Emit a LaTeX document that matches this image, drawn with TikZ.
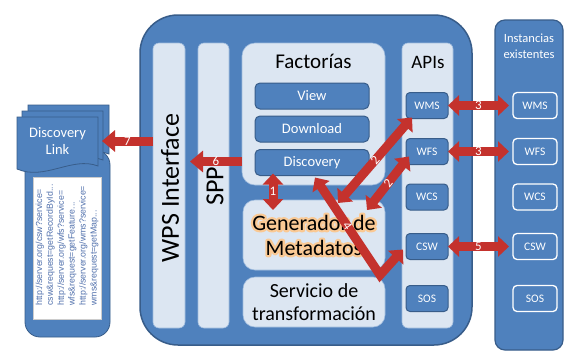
\documentclass[tikz,border=0pt]{standalone}
\usepackage{fontspec}
\setmainfont{Carlito}
\newfontfamily\urlfont{Liberation Sans}
\usetikzlibrary{arrows.meta}
\definecolor{mblue}{RGB}{79,129,189}
\definecolor{dblue}{RGB}{56,93,138}
\definecolor{lblue}{RGB}{220,230,242}
\definecolor{cblue}{RGB}{160,188,222}
\definecolor{ared}{RGB}{196,50,45}
\definecolor{urltext}{RGB}{80,112,172}
\newcommand\glowline[1]{\rlap{\special{pdf:literal direct 1 Tr 4.5 w 1 J 1 j 0.98 0.79 0.58 RG}#1\special{pdf:literal direct 0 Tr}}#1}
\begin{document}
\begin{tikzpicture}[x=1pt,y=-1pt,
  every node/.style={inner sep=0pt,outer sep=0pt},
  bigbox/.style={fill=mblue,draw=dblue,line width=1.5pt,rounded corners=38pt},
  col/.style={fill=lblue,draw=cblue,line width=0.6pt,rounded corners=6pt},
  panel/.style={fill=lblue,draw=cblue,line width=0.6pt,rounded corners=13pt},
  btn/.style={fill=mblue,draw=dblue,line width=1pt,rounded corners=5pt,text=white,
    font=\fontsize{14.5}{16}\selectfont,minimum width=114pt,minimum height=26pt},
  apibtn/.style={fill=mblue,draw=dblue,line width=1pt,rounded corners=4pt,text=white,
    font=\fontsize{11.5}{13}\selectfont,minimum width=42pt,minimum height=26pt},
  instbtn/.style={fill=mblue,draw=white,line width=1.3pt,rounded corners=4pt,text=white,
    font=\fontsize{11.5}{13}\selectfont,minimum width=44pt,minimum height=26pt},
  redarrow/.style={draw=ared,line width=9pt,-{Triangle[length=13pt,width=21pt]}},
  redboth/.style={draw=ared,line width=9pt,
    {Triangle[length=11pt,width=20pt]}-{Triangle[length=11pt,width=20pt]}},
  num/.style={text=white,font=\fontsize{13}{13}\selectfont},
  page/.style={fill=mblue,draw=dblue,line width=0.8pt}
]
\useasboundingbox[fill=white] (0,0) rectangle (565,354);

% main container
\node[bigbox,minimum width=332pt,minimum height=330pt] (big) at (306,180) {};
% existing instances
\node[fill=mblue,draw=dblue,line width=1.2pt,rounded corners=10pt,
  minimum width=68pt,minimum height=330pt] (inst) at (529,185) {};
\node[text=white,align=center,font=\fontsize{12.5}{15.5}\selectfont] (insttitle) at (529,46) {Instancias\\existentes};

% columns
\node[col,minimum width=32pt,minimum height=285pt] (wps) at (169,185.5) {};
\node[rotate=90,font=\fontsize{26}{26}\selectfont] (wpstext) at (170,188) {WPS Interface};
\node[col,minimum width=31pt,minimum height=285pt] (spp) at (213.5,185.5) {};
\node[rotate=90,font=\fontsize{26}{26}\selectfont] (spptext) at (215,186) {SPP};

% factorias
\node[panel,minimum width=143pt,minimum height=142pt] (fact) at (313.5,114) {};
\node[font=\fontsize{21}{21}\selectfont] (facttitle) at (313.5,61) {Factorías};
\node[btn] (view) at (312,96) {View};
\node[btn] (download) at (312,129) {Download};
\node[btn] (discovery) at (312,162.5) {Discovery};

\node[panel,rounded corners=12pt,minimum width=142pt,minimum height=70pt,align=center,
  font=\fontsize{22}{25}\selectfont] (gen) at (314,235)
  {\glowline{Generador de}\\\glowline{Metadatos}};
\node[panel,rounded corners=12pt,minimum width=142pt,minimum height=50pt,align=center,
  font=\fontsize{20}{23}\selectfont] (serv) at (314,302) {Servicio de\\transformación};

% APIs
\node[col,minimum width=51pt,minimum height=285pt] (apis) at (427.5,185.5) {};
\node[font=\fontsize{19}{19}\selectfont] (apistitle) at (428,62) {APIs};
\node[apibtn] (wms) at (427,105.5) {WMS};
\node[apibtn] (wfs) at (427,151.5) {WFS};
\node[apibtn] (wcs) at (427,197) {WCS};
\node[apibtn] (csw) at (427,246.5) {CSW};
\node[apibtn] (sos) at (427,298.5) {SOS};

\node[instbtn] (iwms) at (535,105.5) {WMS};
\node[instbtn] (iwfs) at (535,151.5) {WFS};
\node[instbtn] (iwcs) at (535,197) {WCS};
\node[instbtn] (icsw) at (535,246.5) {CSW};
\node[instbtn] (isos) at (535,298.5) {SOS};

% discovery link
\draw[page,rounded corners=15pt] (25,150) rectangle (110,337);
\foreach \dx/\dy in {11/-12,5/-6,0/0}{
  \begin{scope}[shift={(\dx,\dy)}]
    \draw[page] (17,169) -- (17,117) -- (98,117) -- (98,166)
      .. controls (72,156) and (45,181) .. cycle;
  \end{scope}
}
\node[text=white,align=center,font=\fontsize{14.5}{17}\selectfont,
  minimum width=81pt,minimum height=46pt] (dlink) at (57.5,141) {Discovery\\Link};
\node[fill=white,draw=gray!40,line width=0.5pt,minimum width=68pt,minimum height=142pt] (urlbox) at (67,248) {};
\node[rotate=90,align=left,text=urltext,font=\urlfont\fontsize{8.8}{10.9}\selectfont] (urls) at (67,245)
  {http://server.org/csw?service=\\csw\&request=getRecordById...\\http://server.org/wfs?service=\\wfs\&request=getFeature...\\http://server.org/wms?service=\\wms\&request=getMap...};

% arrows
\draw[redarrow] (wps.west |- dlink.east) -- ([xshift=4pt]dlink.east) node[num,midway]{7};
\path (spp.west |- discovery.west) coordinate (s6);
\path (fact.west |- discovery.west) coordinate (f6);
\draw[redarrow] ([yshift=1pt]f6) -- ([xshift=-8pt,yshift=1pt]s6) node[num,midway]{6};
\draw[redboth] ([xshift=-39pt,yshift=2pt]discovery.south) -- ([xshift=-41pt,yshift=-10pt]gen.north) node[num,midway]{1};
\draw[redboth] ([xshift=24pt,yshift=-3pt]gen.north) -- ([xshift=6pt,yshift=1pt]wms.south west) node[num,midway,sloped]{2};
\draw[redboth] ([xshift=53pt,yshift=-10pt]gen.north) -- ([xshift=3pt,yshift=-5pt]wfs.west) node[num,midway,sloped]{2};
\coordinate (bend4) at (380,275);
\draw[redboth,line join=miter] ([xshift=3pt,yshift=-2pt]discovery.south) -- node[num,sloped]{4} (bend4) -- ([xshift=-3pt,yshift=-3pt]csw.west);
\draw[redboth] (wms.east) -- ([xshift=-4pt]iwms.west) node[num,midway]{3};
\draw[redboth] (wfs.east) -- ([xshift=-4pt]iwfs.west) node[num,midway]{3};
\draw[redboth] (csw.east) -- ([xshift=-4pt]icsw.west) node[num,midway]{5};
\end{tikzpicture}
\end{document}
